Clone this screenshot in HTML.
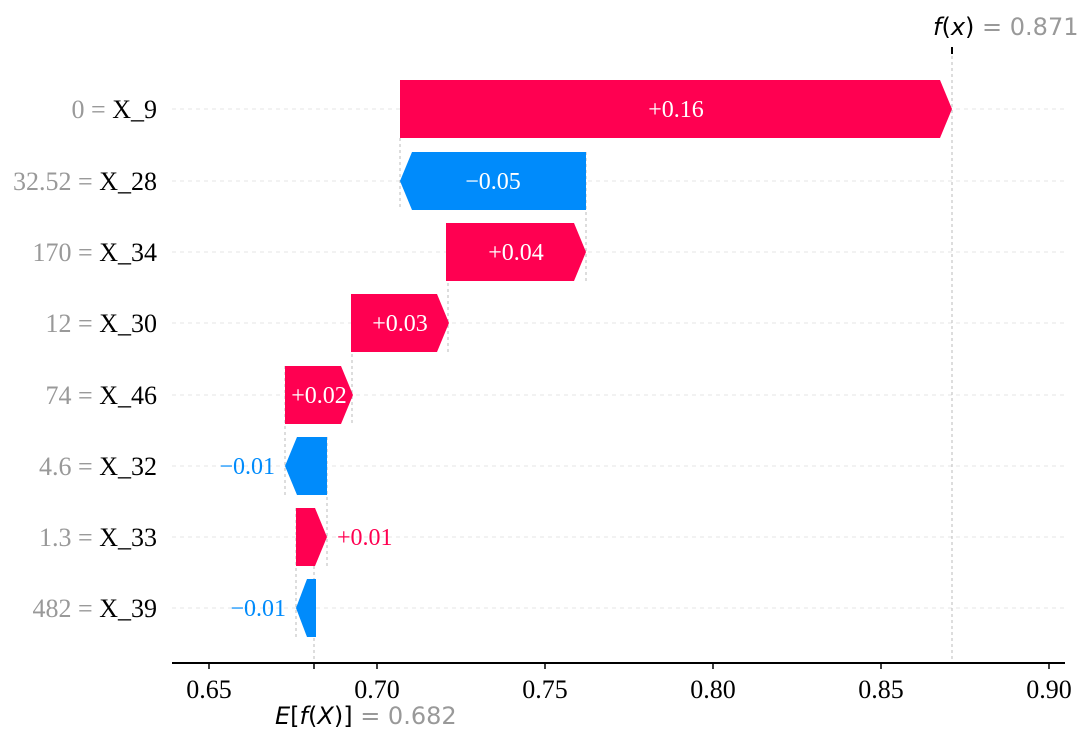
<!DOCTYPE html>
<html><head><meta charset="utf-8"><style>
html,body{margin:0;padding:0;background:#fff;}
svg{display:block;}
.s{font-family:"Liberation Serif",serif;font-size:26px;}
.b{font-family:"Liberation Serif",serif;font-size:24px;}
.d{font-family:"DejaVu Sans",sans-serif;font-size:24px;}
</style></head><body>
<svg width="1087" height="745" viewBox="0 0 1087 745">
<g stroke="#e4e4e4" stroke-width="1" stroke-dasharray="4,4">
<line x1="172" y1="109" x2="1065" y2="109"/>
<line x1="172" y1="181" x2="1065" y2="181"/>
<line x1="172" y1="252" x2="1065" y2="252"/>
<line x1="172" y1="323" x2="1065" y2="323"/>
<line x1="172" y1="395" x2="1065" y2="395"/>
<line x1="172" y1="466" x2="1065" y2="466"/>
<line x1="172" y1="537" x2="1065" y2="537"/>
<line x1="172" y1="608" x2="1065" y2="608"/>
</g>
<g stroke="#bbb" stroke-width="1" stroke-dasharray="3,3">
<line x1="952" y1="50" x2="952" y2="663"/>
<line x1="314" y1="560" x2="314" y2="663"/>
<line x1="400" y1="138" x2="400" y2="210"/>
<line x1="586" y1="152" x2="586" y2="282"/>
<line x1="448" y1="223" x2="448" y2="352"/>
<line x1="352" y1="294" x2="352" y2="424"/>
<line x1="285" y1="366" x2="285" y2="495"/>
<line x1="327" y1="437" x2="327" y2="566"/>
<line x1="296" y1="508" x2="296" y2="637"/>
</g>
<g fill="#ff0051">
<polygon points="400,80 940,80 952,109 940,138 400,138"/>
<polygon points="446,223 574,223 586,252 574,281 446,281"/>
<polygon points="351,294 437,294 449,323 437,352 351,352"/>
<polygon points="285,366 341,366 353,395 341,424 285,424"/>
<polygon points="296,508 315,508 327,537 315,566 296,566"/>
</g>
<g fill="#008bfb">
<polygon points="586,152 412,152 400,181 412,210 586,210"/>
<polygon points="327,437 297,437 285,466 297,495 327,495"/>
<polygon points="316,579 307,579 296,608 307,637 316,637"/>
</g>
<g class="b" fill="#fff" text-anchor="middle">
<text x="676" y="117">+0.16</text>
<text x="493" y="189">−0.05</text>
<text x="516" y="260">+0.04</text>
<text x="400" y="331">+0.03</text>
<text x="319" y="403">+0.02</text>
</g>
<text class="b" x="275" y="474" fill="#008bfb" text-anchor="end">−0.01</text>
<text class="b" x="337" y="545" fill="#ff0051">+0.01</text>
<text class="b" x="286" y="616" fill="#008bfb" text-anchor="end">−0.01</text>
<g class="s" text-anchor="end">
<text x="157" y="118"><tspan fill="#999">0 = </tspan><tspan fill="#000">X_9</tspan></text>
<text x="157" y="190"><tspan fill="#999">32.52 = </tspan><tspan fill="#000">X_28</tspan></text>
<text x="157" y="261"><tspan fill="#999">170 = </tspan><tspan fill="#000">X_34</tspan></text>
<text x="157" y="332"><tspan fill="#999">12 = </tspan><tspan fill="#000">X_30</tspan></text>
<text x="157" y="404"><tspan fill="#999">74 = </tspan><tspan fill="#000">X_46</tspan></text>
<text x="157" y="475"><tspan fill="#999">4.6 = </tspan><tspan fill="#000">X_32</tspan></text>
<text x="157" y="546"><tspan fill="#999">1.3 = </tspan><tspan fill="#000">X_33</tspan></text>
<text x="157" y="617"><tspan fill="#999">482 = </tspan><tspan fill="#000">X_39</tspan></text>
</g>
<line x1="172" y1="663" x2="1065" y2="663" stroke="#000" stroke-width="2"/>
<g stroke="#000" stroke-width="1.5">
<line x1="209" y1="663" x2="209" y2="669"/>
<line x1="377" y1="663" x2="377" y2="669"/>
<line x1="545" y1="663" x2="545" y2="669"/>
<line x1="713" y1="663" x2="713" y2="669"/>
<line x1="881" y1="663" x2="881" y2="669"/>
<line x1="1049" y1="663" x2="1049" y2="669"/>
<line x1="314" y1="663" x2="314" y2="669"/>
<line x1="952" y1="47" x2="952" y2="54" stroke-width="2"/>
</g>
<g class="s" text-anchor="middle" fill="#000">
<text x="209" y="698">0.65</text>
<text x="377" y="698">0.70</text>
<text x="545" y="698">0.75</text>
<text x="713" y="698">0.80</text>
<text x="881" y="698">0.85</text>
<text x="1049" y="698">0.90</text>
</g>
<text class="d" x="933" y="35"><tspan font-style="italic" fill="#000">f</tspan><tspan fill="#000">(</tspan><tspan font-style="italic" fill="#000">x</tspan><tspan fill="#000">)</tspan><tspan fill="#999"> = 0.871</tspan></text>
<text class="d" x="275" y="724"><tspan font-style="italic" fill="#000">E</tspan><tspan fill="#000">[</tspan><tspan font-style="italic" fill="#000">f</tspan><tspan fill="#000">(</tspan><tspan font-style="italic" fill="#000">X</tspan><tspan fill="#000">)]</tspan><tspan fill="#999"> = 0.682</tspan></text>
</svg>
</body></html>
